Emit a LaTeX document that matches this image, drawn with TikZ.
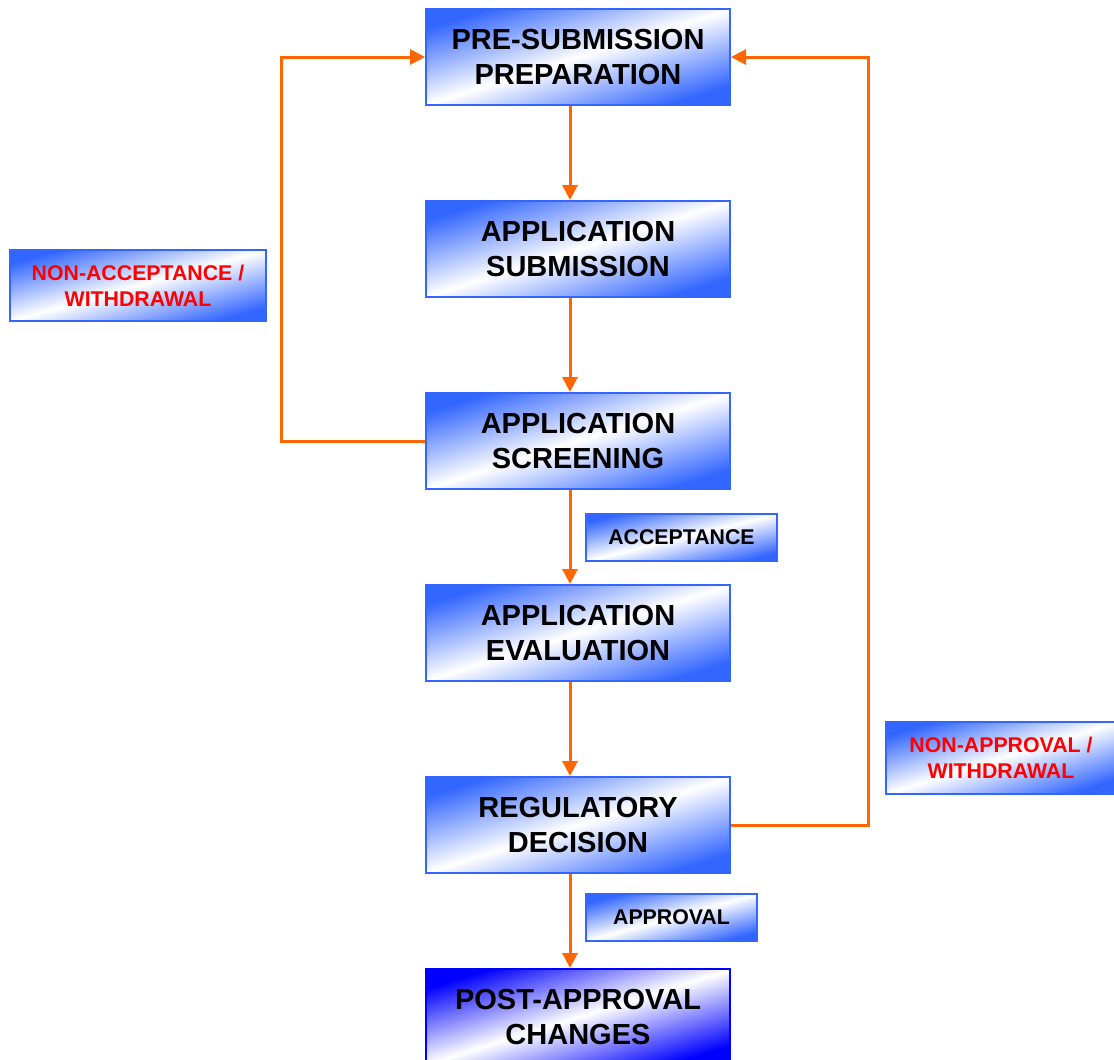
\documentclass[tikz,border=0pt]{standalone}
\usepackage{fontspec}
\setmainfont{Liberation Sans}
\usetikzlibrary{arrows.meta}
\definecolor{bl}{RGB}{51,102,255}
\definecolor{bld}{RGB}{0,0,255}
\definecolor{org}{RGB}{255,102,0}
\definecolor{rd}{RGB}{255,0,0}
\pgfdeclarehorizontalshading{diagbl}{100bp}{color(0bp)=(bl); color(25bp)=(bl); color(50bp)=(white); color(75bp)=(bl); color(100bp)=(bl)}
\pgfdeclarehorizontalshading{diagbld}{100bp}{color(0bp)=(bld); color(25bp)=(bld); color(50bp)=(white); color(75bp)=(bld); color(100bp)=(bld)}
\begin{document}
\begin{tikzpicture}[x=1pt,y=-1pt,
  shadebox/.style={rectangle, draw=#1, line width=2pt, inner sep=0pt, align=center,
    shading=diag#1},
  mainbox/.style={shadebox=bl, minimum width=304pt, minimum height=96pt,
    font=\fontsize{29}{35}\selectfont\bfseries, shading angle=-72.65},
  lastbox/.style={shadebox=bld, minimum width=304pt, minimum height=96pt,
    font=\fontsize{29}{35}\selectfont\bfseries, shading angle=-72.65},
  sidebox/.style={shadebox=bl, font=\fontsize{21.3}{26}\selectfont\bfseries},
  arr/.style={draw=org, line width=3pt, -{Triangle[length=15pt,width=15pt]}}]
\useasboundingbox (0,0) rectangle (1114,1060);
\clip (0,0) rectangle (1114,1060);
\fill[white] (0,0) rectangle (1114,1060);

\node[mainbox] (pre) at (578,57) {PRE-SUBMISSION\\PREPARATION};
\node[mainbox] (sub) at (578,249) {APPLICATION\\SUBMISSION};
\node[mainbox] (scr) at (578,441) {APPLICATION\\SCREENING};
\node[mainbox] (eva) at (578,633) {APPLICATION\\EVALUATION};
\node[mainbox] (dec) at (578,825) {REGULATORY\\DECISION};
\node[lastbox] (post) at (578,1017) {POST-APPROVAL\\CHANGES};

\node[sidebox, minimum width=256pt, minimum height=71pt, text=rd, shading angle=-74.5] (nacc) at (138,285.5) {NON-ACCEPTANCE /\\WITHDRAWAL};
\node[sidebox, minimum width=191pt, minimum height=47pt, shading angle=-76.2] (acc) at (681.5,537.5) {ACCEPTANCE};
\node[sidebox, minimum width=171pt, minimum height=47pt, shading angle=-74.6] (app) at (671.5,917.5) {APPROVAL};
\node[sidebox, minimum width=230pt, minimum height=72pt, text=rd, shading angle=-72.6] (napp) at (1001,758) {NON-APPROVAL /\\WITHDRAWAL};

\draw[arr] ([xshift=-8pt]pre.south) -- ([xshift=-8pt]sub.north);
\draw[arr] ([xshift=-8pt]sub.south) -- ([xshift=-8pt]scr.north);
\draw[arr] ([xshift=-8pt]scr.south) -- ([xshift=-8pt]eva.north);
\draw[arr] ([xshift=-8pt]eva.south) -- ([xshift=-8pt]dec.north);
\draw[arr] ([xshift=-8pt]dec.south) -- ([xshift=-8pt]post.north);

\draw[arr] (scr.west) -- ++(-144,0) |- (pre.west);
\draw[arr] (dec.east) -- ++(137,0) |- (pre.east);
\end{tikzpicture}
\end{document}
